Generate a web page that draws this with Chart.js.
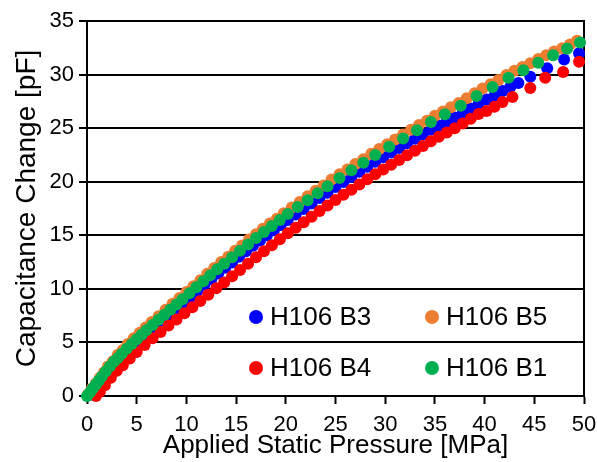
<!DOCTYPE html>
<html><head><meta charset="utf-8">
<script src="https://cdn.jsdelivr.net/npm/chart.js@4/dist/chart.umd.min.js"></script>
<style>html,body{margin:0;padding:0;background:#fff}#wrap{width:597px;height:462px}</style>
</head><body><div id="wrap"><canvas id="c" width="597" height="462"></canvas></div>
<script>
// ---- Data ----
const seriesNames = ['H106 B1', 'H106 B5', 'H106 B4', 'H106 B3'];
const seriesColors = ['#00B050', '#ED7D31', '#FF0000', '#0000FF'];

const b1X = [0,0.3,0.6,0.9,1.2,1.5,1.9,2.3,2.7,3.1,3.5,4.0,4.5,5.0,5.5,6.0,6.6,7.2,7.8,8.4,9.0,9.6,10.3,11.0,11.7,12.4,13.1,13.8,14.6,15.4,16.2,17.0,17.8,18.6,19.4,20.2,21.2,22.2,23.2,24.2,25.4,26.6,27.8,29.0,30.4,31.8,33.2,34.6,36.0,37.6,39.2,40.8,42.4,43.9,45.4,46.9,48.3,49.6];
const b1Y = [0,0.36,0.72,1.08,1.45,1.82,2.32,2.76,3.19,3.54,3.95,4.4,4.85,5.3,5.72,6.15,6.63,7.11,7.59,8.07,8.55,9.03,9.59,10.15,10.71,11.27,11.83,12.35,12.95,13.55,14.15,14.75,15.31,15.87,16.43,16.98,17.63,18.28,18.93,19.58,20.34,21.06,21.78,22.5,23.27,24.04,24.81,25.58,26.3,27.1,28.01,28.85,29.7,30.4,31.1,31.8,32.4,33.0];

const b5X = [0.1,0.5,0.9,1.3,1.7,2.1,2.6,3.1,3.6,4.1,4.7,5.3,5.9,6.5,7.2,7.9,8.6,9.3,10.0,10.7,11.4,12.1,12.8,13.5,14.2,14.9,15.6,16.3,17.0,17.7,18.4,19.1,19.8,20.6,21.4,22.2,23.0,23.8,24.6,25.4,26.2,27.0,27.8,28.6,29.4,30.2,31.0,31.8,32.6,33.4,34.2,35.0,35.8,36.6,37.4,38.2,39.0,39.8,40.6,41.4,42.2,43.0,43.8,44.6,45.4,46.2,47.0,47.8,48.6,49.3];
const b5Y = [0.15,0.7,1.2,1.7,2.2,2.75,3.25,3.85,4.3,4.85,5.4,5.9,6.4,6.9,7.45,8.05,8.6,9.15,9.7,10.25,10.8,11.4,11.95,12.5,13.0,13.55,14.05,14.6,15.1,15.6,16.1,16.55,17.05,17.6,18.1,18.65,19.15,19.65,20.2,20.7,21.15,21.65,22.1,22.6,23.05,23.5,23.95,24.4,24.85,25.3,25.7,26.15,26.55,26.95,27.35,27.8,28.25,28.7,29.1,29.5,29.95,30.35,30.7,31.05,31.45,31.8,32.15,32.45,32.8,33.15];

const b4X = [0.9,1.3,1.8,2.4,3.0,3.6,4.3,5.0,5.8,6.6,7.4,8.2,9.0,9.8,10.6,11.4,12.2,13.0,13.8,14.6,15.4,16.2,17.0,17.8,18.6,19.4,20.2,21.0,21.8,22.6,23.4,24.2,25.0,25.8,26.6,27.4,28.2,29.0,29.8,30.6,31.4,32.2,33.0,33.8,34.6,35.4,36.2,37.0,37.8,38.6,39.4,40.2,41.0,41.8,42.8,44.6,46.1,47.9,49.5];
const b4Y = [0.0,0.4,1.0,1.7,2.35,2.88,3.5,4.1,4.75,5.38,5.98,6.57,7.15,7.72,8.29,8.87,9.46,10.05,10.6,11.17,11.75,12.35,12.95,13.51,14.07,14.63,15.18,15.7,16.22,16.74,17.26,17.78,18.3,18.78,19.26,19.74,20.22,20.7,21.14,21.58,22.02,22.46,22.9,23.34,23.78,24.2,24.6,25.0,25.44,25.88,26.32,26.6,27.0,27.45,27.9,28.75,29.7,30.25,31.2];

const b3X = [0.2,0.6,1.0,1.4,1.8,2.3,2.8,3.3,3.8,4.4,5.0,5.6,6.2,6.9,7.6,8.3,9.0,9.7,10.4,11.1,11.8,12.5,13.2,13.9,14.6,15.3,16.0,16.7,17.4,18.1,18.8,19.5,20.2,21.0,21.8,22.6,23.4,24.2,25.0,25.8,26.6,27.4,28.2,29.0,29.8,30.6,31.4,32.2,33.0,33.8,34.6,35.4,36.2,37.0,37.8,38.6,39.4,40.2,41.0,41.8,42.6,43.4,44.6,46.3,48.0,49.5];
const b3Y = [0.1,0.65,1.1,1.6,2.08,2.62,3.12,3.57,4.0,4.51,5.0,5.49,5.97,6.51,7.06,7.61,8.15,8.7,9.25,9.8,10.35,10.9,11.44,11.96,12.47,12.99,13.5,14.03,14.52,15.0,15.48,15.96,16.43,16.94,17.45,17.96,18.47,18.98,19.5,19.97,20.44,20.92,21.39,21.86,22.29,22.72,23.15,23.58,24.0,24.42,24.84,25.24,25.62,26.0,26.42,26.84,27.26,27.67,28.05,28.47,28.86,29.22,29.8,30.6,31.4,32.0];

const xTickValues = [0,5,10,15,20,25,30,35,40,45,50];
const yTickValues = [0,5,10,15,20,25,30,35];
const xTitle = 'Applied Static Pressure [MPa]';
const yTitle = 'Capacitance Change [pF]';

// ---- Build ----
function pts(xs, ys) { return xs.map((x, i) => ({x: x, y: ys[i]})); }
const seriesData = [pts(b1X, b1Y), pts(b5X, b5Y), pts(b4X, b4Y), pts(b3X, b3Y)];
const datasets = seriesNames.map((n, i) => ({
  label: n, data: seriesData[i],
  backgroundColor: seriesColors[i], borderColor: seriesColors[i],
  pointRadius: 6, pointBorderWidth: 0, pointHoverRadius: 6, showLine: false, clip: false
}));

const FONT = 'Liberation Sans, Arial, sans-serif';

// legend layout: [dataset index, col, row]
const legendOrder = [[3,0,0],[1,1,0],[2,0,1],[0,1,1]];
const legendPlugin = {
  id: 'insideLegend',
  afterDatasetsDraw(chart) {
    const ctx = chart.ctx;
    const colX = [256, 432], rowY = [317, 368];
    ctx.save();
    ctx.font = '26px ' + FONT;
    ctx.textBaseline = 'middle';
    ctx.textAlign = 'left';
    legendOrder.forEach(([di, c, r]) => {
      const ds = chart.data.datasets[di];
      ctx.fillStyle = ds.backgroundColor;
      ctx.beginPath(); ctx.arc(colX[c], rowY[r], 7, 0, Math.PI * 2); ctx.fill();
      ctx.fillStyle = '#000';
      ctx.fillText(ds.label, colX[c] + 14, rowY[r] + 1);
    });
    ctx.restore();
  }
};
const framePlugin = {
  id: 'frame',
  beforeDatasetsDraw(chart) {
    const a = chart.chartArea, ctx = chart.ctx;
    ctx.save(); ctx.strokeStyle = '#000'; ctx.lineWidth = 2;
    ctx.strokeRect(a.left, a.top, a.right - a.left, a.bottom - a.top);
    ctx.restore();
  }
};

new Chart(document.getElementById('c'), {
  type: 'scatter',
  data: { datasets: datasets },
  options: {
    responsive: false, animation: false, events: [],
    layout: { padding: { top: 21, right: 13, left: 0, bottom: 0 } },
    plugins: { legend: { display: false }, tooltip: { enabled: false } },
    scales: {
      x: {
        type: 'linear', min: xTickValues[0], max: xTickValues[xTickValues.length - 1],
        afterBuildTicks: s => { s.ticks = xTickValues.map(v => ({value: v})); },
        afterFit: s => { s.height = 66; s.paddingRight = 13; s.paddingLeft = 0; },
        grid: { drawOnChartArea: false, drawTicks: true, tickLength: 8, tickColor: '#000', tickWidth: 2 },
        border: { display: true, color: '#000', width: 2 },
        ticks: { color: '#000', font: { family: FONT, size: 22 }, padding: 8, maxRotation: 0, autoSkip: false },
        title: { display: true, text: xTitle, color: '#000', font: { family: FONT, size: 26 }, padding: { top: 0, bottom: 1 } }
      },
      y: {
        type: 'linear', min: yTickValues[0], max: yTickValues[yTickValues.length - 1],
        afterBuildTicks: s => { s.ticks = yTickValues.map(v => ({value: v})); },
        afterFit: s => { s.width = 87; },
        grid: { color: '#000', lineWidth: 2, drawTicks: true, tickLength: 8, tickColor: '#000', tickWidth: 2 },
        border: { display: true, color: '#000', width: 2 },
        ticks: { color: '#000', font: { family: FONT, size: 22 }, padding: 5, autoSkip: false },
        title: { display: true, text: yTitle, color: '#000', font: { family: FONT, size: 28 }, padding: { top: 10, bottom: 0 } }
      }
    }
  },
  plugins: [framePlugin, legendPlugin]
});
</script></body></html>
